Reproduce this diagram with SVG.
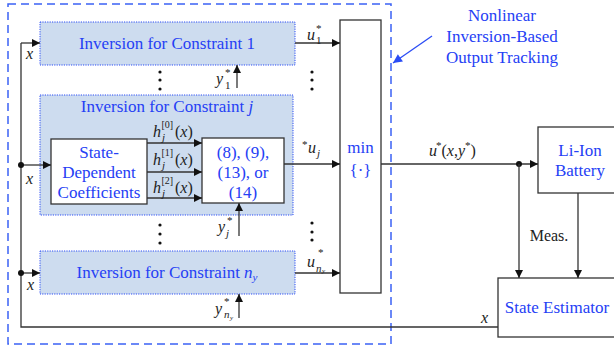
<svg xmlns="http://www.w3.org/2000/svg" width="614" height="346" viewBox="0 0 614 346">
  <style>
    .t { font-family: "Liberation Serif", "Times New Roman", serif; font-size: 17px; fill: #2540f5; }
    .m { font-family: "Liberation Serif", "Times New Roman", serif; font-size: 16px; fill: #222; }
    .i { font-style: italic; }
    .s { font-size: 11px; }
    .sx { font-size: 10px; }
    .ss { font-size: 7px; }
    .blk { fill: #fff; stroke: #333; stroke-width: 1.3; }
    .inv { fill: #cddcef; stroke: #2a4cf5; stroke-width: 1; stroke-dasharray: 1.2 1.2; }
    .ln { fill: none; stroke: #333; stroke-width: 1.3; }
    .arr { marker-end: url(#ah); }
    .dot { fill: #111; }
  </style>
  <defs>
    <marker id="ah" viewBox="0 0 10 10" refX="10" refY="5" markerUnits="userSpaceOnUse" markerWidth="9" markerHeight="8" orient="auto">
      <path d="M0,0 L10,5 L0,10 z" fill="#111"/>
    </marker>
    <marker id="ahb" viewBox="0 0 10 10" refX="10" refY="5" markerUnits="userSpaceOnUse" markerWidth="10" markerHeight="9" orient="auto">
      <path d="M0,0 L10,5 L0,10 z" fill="#2a4cf5"/>
    </marker>
  </defs>

  <rect width="614" height="346" fill="#fff"/>

  <!-- outer boundary of the tracking controller -->
  <g id="controller-boundary">
    <rect x="8" y="4" width="383" height="340" fill="none" stroke="#3b62f5" stroke-width="1.5" stroke-dasharray="8 5"/>
    <text class="t" x="502" y="21" text-anchor="middle">Nonlinear</text>
    <text class="t" x="502" y="42" text-anchor="middle">Inversion-Based</text>
    <text class="t" x="502" y="63" text-anchor="middle">Output Tracking</text>
    <line x1="432" y1="36" x2="393" y2="63" stroke="#2a4cf5" stroke-width="1.3" marker-end="url(#ahb)"/>
  </g>

  <!-- inversion block, constraint 1 -->
  <g id="inv1">
    <rect class="inv" x="40" y="22" width="255" height="43"/>
    <text class="t" x="167" y="49" text-anchor="middle">Inversion for Constraint 1</text>
  </g>

  <!-- inversion block, constraint j -->
  <g id="invj">
    <rect class="inv" x="40" y="95" width="253" height="120"/>
    <text class="t" x="167" y="112" text-anchor="middle">Inversion for Constraint <tspan class="i">j</tspan></text>
  </g>

  <g id="sdc">
    <rect class="blk" x="51" y="139" width="96" height="65"/>
    <text class="t" x="99" y="158" text-anchor="middle">State-</text>
    <text class="t" x="99" y="178" text-anchor="middle">Dependent</text>
    <text class="t" x="99" y="198" text-anchor="middle">Coefficients</text>
  </g>

  <g id="eqs">
    <rect class="blk" x="202" y="138" width="82" height="65"/>
    <text class="t" x="243" y="158" text-anchor="middle">(8), (9),</text>
    <text class="t" x="243" y="178" text-anchor="middle">(13), or</text>
    <text class="t" x="243" y="198" text-anchor="middle">(14)</text>
  </g>

  <!-- inversion block, constraint n_y -->
  <g id="invn">
    <rect class="inv" x="40" y="251" width="255" height="43"/>
    <text class="t" x="167" y="278" text-anchor="middle">Inversion for Constraint <tspan class="i">n</tspan><tspan class="i s" dy="3">y</tspan></text>
  </g>

  <g id="minblk">
    <rect class="blk" x="340" y="20" width="41" height="273"/>
    <text class="t" x="360.5" y="153" text-anchor="middle">min</text>
    <text class="t" x="360.5" y="176" text-anchor="middle">{·}</text>
  </g>

  <g id="battery">
    <rect class="blk" x="538" y="127" width="84" height="66"/>
    <text class="t" x="580" y="156" text-anchor="middle">Li-Ion</text>
    <text class="t" x="580" y="176" text-anchor="middle">Battery</text>
  </g>

  <g id="estimator">
    <rect class="blk" x="498" y="278" width="125" height="59"/>
    <text class="t" x="557" y="313" text-anchor="middle">State Estimator</text>
  </g>

  <!-- signal lines -->
  <g id="connectors">
    <!-- state feedback and distribution -->
    <polyline class="ln" points="498,327 21,327 21,43"/>
    <line class="ln arr" x1="21" y1="43" x2="40" y2="43"/>
    <line class="ln arr" x1="21" y1="165" x2="51" y2="165"/>
    <line class="ln arr" x1="21" y1="273" x2="40" y2="273"/>
    <circle class="dot" cx="21" cy="165" r="3"/>
    <circle class="dot" cx="21" cy="273" r="3"/>

    <!-- coefficients -->
    <line class="ln arr" x1="147" y1="143" x2="202" y2="143"/>
    <line class="ln arr" x1="147" y1="172" x2="202" y2="172"/>
    <line class="ln arr" x1="147" y1="198" x2="202" y2="198"/>

    <!-- reference inputs -->
    <line class="ln arr" x1="237" y1="88" x2="237" y2="65"/>
    <line class="ln arr" x1="239" y1="236" x2="239" y2="203"/>
    <line class="ln arr" x1="239" y1="318" x2="239" y2="294"/>

    <!-- candidate inputs to min -->
    <line class="ln arr" x1="295" y1="43" x2="340" y2="43"/>
    <line class="ln arr" x1="284" y1="164" x2="340" y2="164"/>
    <line class="ln arr" x1="295" y1="273" x2="340" y2="273"/>

    <!-- applied input -->
    <line class="ln arr" x1="381" y1="164" x2="538" y2="164"/>
    <circle class="dot" cx="519" cy="164" r="3"/>
    <line class="ln arr" x1="519" y1="164" x2="519" y2="278"/>
    <line class="ln arr" x1="578" y1="193" x2="578" y2="278"/>

    <!-- ellipses -->
    <g class="dot">
      <circle cx="160" cy="72" r="1.6"/><circle cx="160" cy="80" r="1.6"/><circle cx="160" cy="89" r="1.6"/>
      <circle cx="160" cy="225" r="1.6"/><circle cx="160" cy="234" r="1.6"/><circle cx="160" cy="243" r="1.6"/>
      <circle cx="312" cy="72" r="1.6"/><circle cx="312" cy="80" r="1.6"/><circle cx="312" cy="89" r="1.6"/>
      <circle cx="312" cy="223" r="1.6"/><circle cx="312" cy="232" r="1.6"/><circle cx="312" cy="240" r="1.6"/>
    </g>
  </g>

  <!-- signal labels -->
  <g id="labels">
    <text class="m i" x="26" y="59">x</text>
    <text class="m i" x="26" y="184">x</text>
    <text class="m i" x="27" y="290">x</text>
    <text class="m i" x="481" y="323">x</text>

    <!-- coefficient labels -->
    <text class="m i" x="153" y="137">h</text>
    <text class="m sx" x="161.5" y="128">[0]</text>
    <text class="m i s" x="162" y="141">j</text>
    <text class="m" x="175" y="137">(<tspan class="i">x</tspan>)</text>

    <text class="m i" x="153" y="165">h</text>
    <text class="m sx" x="161.5" y="156">[1]</text>
    <text class="m i s" x="162" y="169">j</text>
    <text class="m" x="175" y="165">(<tspan class="i">x</tspan>)</text>

    <text class="m i" x="153" y="193">h</text>
    <text class="m sx" x="161.5" y="184">[2]</text>
    <text class="m i s" x="162" y="197">j</text>
    <text class="m" x="175" y="193">(<tspan class="i">x</tspan>)</text>

    <!-- references -->
    <text class="m i" x="216" y="84">y</text>
    <text class="m s" x="225" y="76">*</text>
    <text class="m s" x="225" y="89">1</text>

    <text class="m i" x="218" y="232">y</text>
    <text class="m s" x="227" y="224">*</text>
    <text class="m i s" x="226" y="237">j</text>

    <text class="m i" x="215" y="314">y</text>
    <text class="m s" x="224" y="305">*</text>
    <text class="m i s" x="224" y="318">n</text>
    <text class="m i ss" x="230" y="320">y</text>

    <!-- candidate inputs -->
    <text class="m i" x="307" y="40">u</text>
    <text class="m s" x="316" y="32">*</text>
    <text class="m s" x="316" y="44">1</text>

    <text class="m s" x="302" y="148">*</text>
    <text class="m i" x="308" y="153">u</text>
    <text class="m i s" x="317" y="157">j</text>

    <text class="m i" x="307" y="267">u</text>
    <text class="m s" x="318" y="256">*</text>
    <text class="m i s" x="316" y="272">n</text>
    <text class="m i ss" x="322" y="273">y</text>

    <!-- applied input -->
    <text class="m" x="429" y="156"><tspan class="i">u</tspan><tspan class="s" dx="-1" dy="-7">*</tspan><tspan dy="7">(</tspan><tspan class="i">x</tspan>,<tspan class="i">y</tspan><tspan class="s" dy="-7">*</tspan><tspan dy="7">)</tspan></text>

    <text class="m" x="549" y="241" text-anchor="middle">Meas.</text>
  </g>
</svg>
